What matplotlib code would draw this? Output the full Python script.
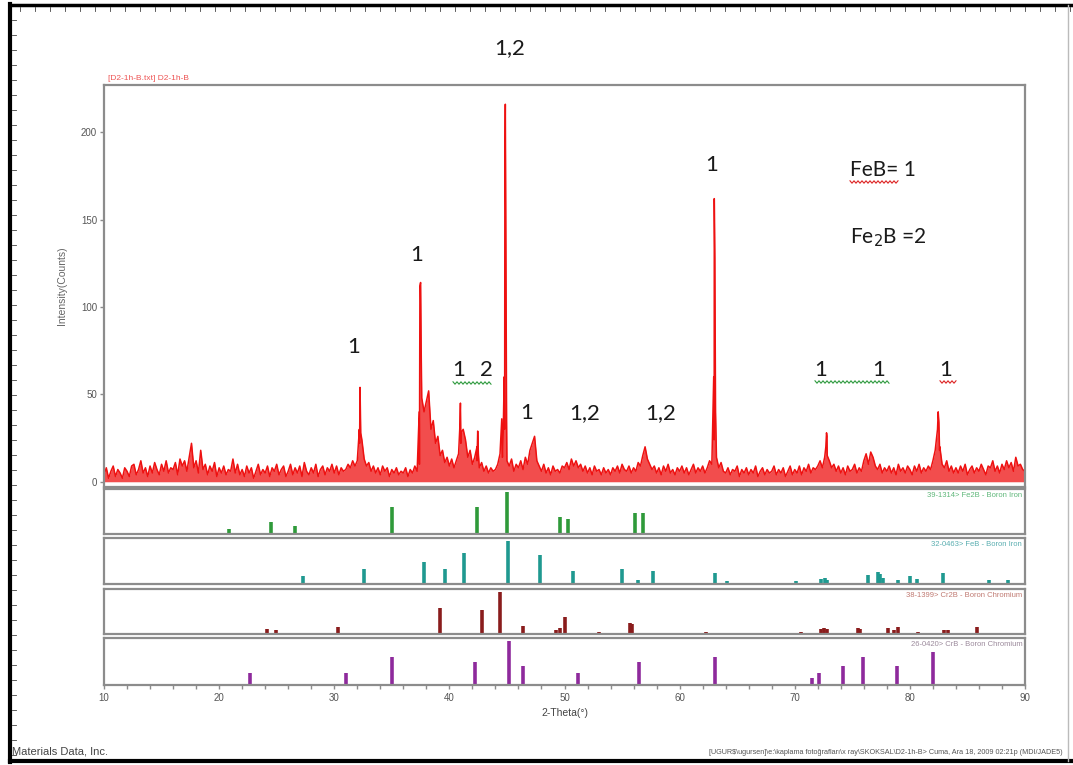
import numpy as np
import matplotlib
matplotlib.use('Agg')
from matplotlib import pyplot as plt
from matplotlib.lines import Line2D

# --- measured pattern: background sampled every 0.2 deg from 10 to 90 ---
bg_start, bg_step = 10.0, 0.2
bg_counts = [
    4, 8, 2, 6, 9, 3, 7, 5, 2, 8,        # 10
    6, 3, 9, 10, 4, 7, 12, 5, 8, 3,      # 12
    9, 5, 11, 7, 4, 10, 6, 12, 5, 8,     # 14
    7, 11, 4, 13, 9, 12, 6, 14, 22, 8,   # 16
    12, 5, 18, 7, 10, 4, 9, 6, 11, 3,    # 18
    8, 5, 9, 4, 7, 6, 13, 5, 10, 4,      # 20
    7, 3, 9, 5, 8, 2, 6, 10, 4, 7,       # 22
    5, 9, 3, 8, 6, 10, 4, 7, 9, 3,       # 24
    6, 10, 4, 8, 5, 9, 3, 11, 6, 4,      # 26
    8, 5, 10, 3, 7, 9, 4, 8, 6, 10,      # 28
    5, 9, 4, 8, 6, 7, 10, 8, 12, 9,      # 30
    12, 22, 24, 13, 9, 11, 6, 9, 5, 8,   # 32
    4, 9, 6, 8, 3, 7, 5, 8, 4, 6,        # 34
    5, 8, 3, 7, 5, 9, 6, 10, 48, 40,     # 36
    46, 52, 30, 35, 22, 26, 15, 18, 11, 14,  # 38
    9, 13, 8, 12, 16, 22, 30, 24, 14, 18,    # 40
    10, 14, 12, 8, 11, 6, 9, 5, 8, 6,    # 42
    7, 10, 16, 14, 30, 12, 9, 13, 6, 10, # 44
    8, 12, 7, 14, 10, 18, 22, 26, 12, 9, # 46
    6, 10, 5, 8, 4, 9, 6, 7, 5, 9,       # 48
    8, 11, 7, 13, 9, 12, 8, 10, 6, 9,    # 50
    5, 8, 4, 9, 6, 7, 4, 8, 5, 7,        # 52
    4, 8, 6, 9, 5, 10, 7, 6, 9, 5,       # 54
    8, 6, 11, 9, 15, 20, 13, 10, 7, 9,   # 56
    5, 8, 4, 9, 6, 10, 5, 7, 4, 8,       # 58
    6, 9, 5, 8, 4, 7, 10, 5, 8, 6,       # 60
    9, 5, 8, 12, 10, 24, 14, 8, 11, 6,   # 62
    5, 8, 4, 7, 6, 9, 3, 7, 5, 8,        # 64
    4, 7, 5, 9, 3, 6, 8, 4, 7, 5,        # 66
    6, 9, 4, 7, 5, 8, 3, 6, 9, 4,        # 68
    7, 5, 9, 4, 8, 6, 10, 5, 8, 7,       # 70
    9, 12, 8, 14, 26, 12, 8, 10, 6, 9,   # 72
    5, 8, 4, 9, 6, 7, 10, 5, 8, 6,       # 74
    12, 16, 10, 17, 14, 9, 7, 10, 5, 8,  # 76
    6, 9, 5, 8, 4, 10, 6, 8, 5, 9,       # 78
    7, 4, 9, 6, 10, 5, 8, 6, 9, 7,       # 80
    12, 18, 30, 20, 10, 8, 12, 6, 9, 5,  # 82
    8, 5, 9, 6, 10, 4, 7, 9, 5, 8,       # 84
    6, 10, 7, 4, 9, 8, 12, 6, 9, 5,      # 86
    10, 7, 12, 8, 11, 6, 14, 9, 10, 7,   # 88
    6,                                   # 90
]

# sharp reflections
peak_theta = [32.18, 32.24, 32.30,
              37.38, 37.44, 37.50, 37.56,
              40.90, 40.96, 41.02,
              42.40, 42.46, 42.52,
              44.55, 44.64, 44.76, 44.82, 44.86, 44.92, 44.97,
              62.96, 63.01, 63.06, 63.12,
              72.70, 72.76, 72.82,
              82.40, 82.46, 82.52, 82.58]
peak_counts = [30, 54, 28,
               40, 112, 114, 70,
               30, 45, 28,
               20, 29, 16,
               36, 14, 60, 180, 216, 120, 35,
               60, 162, 128, 40,
               20, 28, 15,
               30, 40, 34, 18]

# reference cards (2-theta, relative intensity)
fe2b_theta = [20.9, 24.5, 26.6, 35.0, 42.4, 45.0, 49.6, 50.3, 56.1, 56.8]
fe2b_int = [12, 29, 19, 64, 64, 100, 40, 36, 50, 50]

feb_theta = [27.3, 32.6, 37.8, 39.6, 41.3, 45.1, 47.9, 50.7, 55.0, 56.4, 57.7,
             63.1, 64.1, 70.1, 72.3, 72.6, 72.8, 76.4, 77.2, 77.4, 77.7, 79.0,
             80.0, 80.6, 82.9, 86.9, 88.5]
feb_int = [18, 34, 52, 34, 73, 100, 68, 30, 34, 9, 30,
           25, 7, 7, 11, 14, 9, 20, 27, 23, 14, 9,
           18, 11, 25, 9, 9]

cr2b_theta = [24.2, 24.9, 30.3, 39.2, 42.8, 44.4, 46.4, 49.3, 49.6, 50.0, 53.0,
              55.7, 55.9, 62.3, 70.5, 72.3, 72.5, 72.8, 75.5, 75.7, 78.1, 78.6,
              79.0, 80.7, 83.0, 83.3, 85.8]
cr2b_int = [12, 10, 17, 62, 57, 100, 19, 10, 14, 40, 5,
            26, 24, 5, 5, 12, 14, 12, 14, 12, 14, 10,
            17, 5, 10, 10, 17]

crb_theta = [22.7, 31.0, 35.0, 42.2, 45.2, 46.4, 51.2, 56.5, 63.1, 71.5, 72.1,
             74.2, 75.9, 78.9, 82.0]
crb_int = [28, 28, 63, 53, 100, 44, 28, 53, 63, 16, 28, 44, 63, 44, 74]

cards = [
    ('39-1314> Fe2B - Boron Iron', fe2b_theta, fe2b_int, '#2f9a3a', '#5fb77a'),
    ('32-0463> FeB - Boron Iron', feb_theta, feb_int, '#1f9990', '#5aaeb0'),
    ('38-1399> Cr2B - Boron Chromium', cr2b_theta, cr2b_int, '#8a1c1c', '#c07a72'),
    ('26-0420> CrB - Boron Chromium', crb_theta, crb_int, '#8e2a9c', '#9c8a9c'),
]

W, H = 1073, 765
def fx(x): return x / W
def fy(y): return 1 - y / H

plt.rcParams['font.family'] = ['Liberation Sans', 'DejaVu Sans']
fig = plt.figure(figsize=(W / 100, H / 100), dpi=100)

frame_col = '#8c8c8c'
left, right = 104, 1025

# merge background grid with the peak points
theta = np.concatenate([bg_start + bg_step * np.arange(len(bg_counts)), peak_theta])
counts = np.concatenate([bg_counts, peak_counts])
order = np.argsort(theta)
theta, counts = theta[order], counts[order]

ax = fig.add_axes([fx(left), fy(487), fx(right - left), (487 - 85) / H])
# dense counting noise shows as a nearly solid band in the original
ax.fill_between(theta, 0, counts, color='#ee1111', alpha=0.75, lw=0)
ax.plot(theta, counts, color='#ee1111', lw=1.1)
ax.set_xlim(10, 90)
ax.set_ylim(-3, 227)
ax.set_xticks([])
ax.set_yticks([0, 50, 100, 150, 200])
ax.tick_params(axis='y', direction='out', length=3, width=1, colors=frame_col,
               labelsize=7, labelcolor='#555555', pad=2)
for s in ax.spines.values():
    s.set_color(frame_col)
    s.set_linewidth(1.6)

# stick panels
panel_px = [(489, 534), (538, 584), (589, 634), (638, 685)]
for (label, th, inten, col, tcol), (top, bot) in zip(cards, panel_px):
    pa = fig.add_axes([fx(left), fy(bot), fx(right - left), (bot - top) / H])
    pa.vlines(th, 0, inten, color=col, lw=2.6)
    pa.set_xlim(10, 90)
    pa.set_ylim(0, 107)
    pa.set_yticks([])
    pa.set_xticks([])
    for s in pa.spines.values():
        s.set_color(frame_col)
        s.set_linewidth(1.6)
    pa.text(0.997, 0.93, label, transform=pa.transAxes, ha='right', va='top',
            fontsize=5.5, color=tcol)
    last = pa

last.set_xticks(np.arange(10, 91, 10))
last.set_xticks(np.arange(10, 91, 2), minor=True)
last.tick_params(axis='x', which='both', direction='out', length=3, width=1,
                 colors=frame_col, labelsize=7, labelcolor='#555555', pad=3)

# axis labels and header
fig.text(fx(62), fy(286), 'Intensity(Counts)', rotation=90, ha='center', va='center',
         fontsize=7.5, color='#666666')
fig.text(fx(565), fy(713), '2-Theta(°)', ha='center', va='center', fontsize=7.5,
         color='#444444')
fig.text(fx(108), fy(79), '[D2-1h-B.txt] D2-1h-B', ha='left', va='center', fontsize=6,
         color='#ee5555')
fig.text(fx(12), fy(752), 'Materials Data, Inc.', ha='left', va='center', fontsize=8,
         color='#444444')
fig.text(fx(1063), fy(752),
         '[UGUR$\\ugursen]\\e:\\kaplama fotoğrafları\\x ray\\SKOKSAL\\D2-1h-B> '
         'Cuma, Ara 18, 2009 02:21p (MDI/JADE5)',
         ha='right', va='center', fontsize=5.2, color='#555555')

# phase annotations
ann_font = dict(fontsize=16, color='#1a1a1a', ha='center', va='center',
                family=['Lato', 'DejaVu Sans'])
for txt, x, y in [('1,2', 510, 48), ('1', 417, 255), ('1', 354, 347),
                  ('1', 459, 370), ('2', 486, 370), ('1', 527, 413),
                  ('1,2', 585, 413), ('1,2', 661, 413), ('1', 712, 165),
                  ('1', 821, 370), ('1', 879, 370), ('1', 946, 370)]:
    fig.text(fx(x), fy(y), txt, **ann_font)
fig.text(fx(850), fy(170), 'FeB= 1', fontsize=15, color='#1a1a1a', ha='left',
         va='center', family=['Lato', 'DejaVu Sans'])
fig.text(fx(850), fy(238), 'Fe$_2$B =2', fontsize=15, color='#1a1a1a', ha='left',
         va='center', family=['Lato', 'DejaVu Sans'])

# spell-check squiggles
def squiggle(x0, x1, y, col):
    xs = np.arange(x0, x1 + 0.1, 2.0)
    ys = y + np.where(np.arange(len(xs)) % 2 == 0, -1.2, 1.2)
    fig.add_artist(Line2D(fx(xs), fy(ys), color=col, lw=0.8))

squiggle(453, 491, 383, '#2e9a3e')
squiggle(815, 889, 382, '#2e9a3e')
squiggle(940, 956, 382, '#dd2222')
squiggle(850, 898, 182, '#dd2222')

# page frame from the screenshot
fig.add_artist(Line2D([fx(10), fx(10)], [fy(4), fy(762)], color='black', lw=3))
fig.add_artist(Line2D([fx(10), fx(1073)], [fy(5), fy(5)], color='black', lw=2.5))
fig.add_artist(Line2D([fx(10), fx(1073)], [fy(761), fy(761)], color='black', lw=3))
fig.add_artist(Line2D([fx(1068), fx(1068)], [fy(5), fy(761)], color='#bbbbbb', lw=1))
for x in np.arange(20, 1073, 15):
    fig.add_artist(Line2D([fx(x), fx(x)], [fy(7), fy(11)], color='#444444', lw=0.6))
for y in np.arange(20, 760, 15):
    fig.add_artist(Line2D([fx(12), fx(16)], [fy(y), fy(y)], color='#444444', lw=0.6))

plt.savefig('out.png', dpi=100)
